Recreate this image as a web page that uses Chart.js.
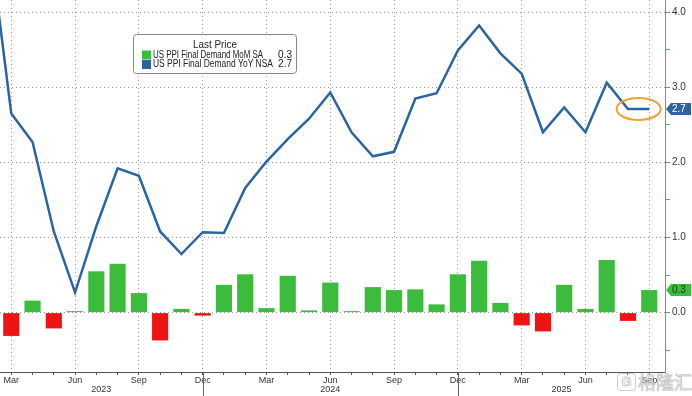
<!DOCTYPE html>
<html lang="en">
<head>
<meta charset="UTF-8">
<title>US PPI Final Demand</title>
<script src="https://cdn.jsdelivr.net/npm/chart.js"></script>
<style>
  html, body { margin: 0; padding: 0; background: #fff; }
  #wrap { position: relative; width: 692px; height: 396px; }
</style>
</head>
<body>
<div id="wrap"><canvas id="ppiChart"></canvas></div>
<script>
    // index 0 = Mar 2023, one step per month
    const monthNames = ['Jan', 'Feb', 'Mar', 'Apr', 'May', 'Jun', 'Jul', 'Aug', 'Sep', 'Oct', 'Nov', 'Dec'];
    const startYear = 2023;
    const startMonth = 2;

    const momLabel = 'US PPI Final Demand MoM SA';
    const yoyLabel = 'US PPI Final Demand YoY NSA';

    // MoM bars, Mar 2023 .. Sep 2025
    const momValues = [
        -0.31, 0.16, -0.21, 0.02, 0.55, 0.65, 0.26, -0.37, 0.05, -0.04,
        0.37, 0.51, 0.06, 0.49, 0.03, 0.40, 0.02, 0.34, 0.30, 0.31, 0.11, 0.51,
        0.69, 0.13, -0.17, -0.25, 0.37, 0.05, 0.70, -0.11, 0.30
    ];
    // YoY line, Feb 2023 .. Sep 2025 (first point sits left of the plot)
    const yoyValues = [
        4.9, 2.65, 2.27, 1.08, 0.27, 1.15, 1.92, 1.82, 1.08, 0.78, 1.07,
        1.06, 1.66, 2.01, 2.31, 2.58, 2.93, 2.40, 2.08, 2.14, 2.85, 2.92, 3.49,
        3.82, 3.45, 3.18, 2.40, 2.73, 2.40, 3.06, 2.71, 2.71
    ];
    const yoyOffset = -1;

    const xMin = -0.53, xMax = 30.74;
    const yMin = -0.79, yMax = 4.16;

    const green = '#3cbc3c';
    const red = '#ee1414';
    const blue = '#2c64a0';
    const axisGreen = '#4cb84c';
    const legendFont = '10px "Liberation Sans", Arial, sans-serif';

    const monthOf = i => ((startMonth + i) % 12 + 12) % 12;
    const yearOf = i => startYear + Math.floor((startMonth + i) / 12);

    Chart.defaults.font.family = '"Liberation Sans", Arial, sans-serif';
    Chart.defaults.font.size = 9;
    Chart.defaults.color = '#333';

    const overlay = {
        id: 'overlay',
        afterDatasetsDraw(chart) {
            const { ctx, scales: { x, y } } = chart;
            // orange ring around the last two readings
            const n = yoyValues.length;
            const cx = (x.getPixelForValue(n - 2 + yoyOffset) + x.getPixelForValue(n - 1 + yoyOffset)) / 2;
            const cy = y.getPixelForValue(yoyValues[n - 1]);
            ctx.save();
            ctx.strokeStyle = '#f0a030';
            ctx.lineWidth = 2;
            ctx.beginPath();
            ctx.ellipse(cx, cy, 22, 11, 0, 0, Math.PI * 2);
            ctx.stroke();
            ctx.restore();
        },
        afterDraw(chart) {
            const { ctx, scales: { x, y }, chartArea } = chart;
            ctx.save();

            // year separators and year labels
            const decs = [];
            for (let i = 0; i <= 30; i++) if (monthOf(i) === 11) decs.push(i);
            ctx.strokeStyle = '#666';
            ctx.lineWidth = 1;
            decs.forEach(i => {
                const px = Math.round(x.getPixelForValue(i)) + 0.5;
                ctx.beginPath();
                ctx.moveTo(px, chartArea.bottom);
                ctx.lineTo(px, chart.height);
                ctx.stroke();
            });
            const bounds = [xMin, ...decs, xMax];
            ctx.fillStyle = '#333';
            ctx.font = '9px "Liberation Sans", Arial, sans-serif';
            ctx.textAlign = 'center';
            ctx.textBaseline = 'middle';
            for (let k = 0; k < bounds.length - 1; k++) {
                const mid = (bounds[k] + bounds[k + 1]) / 2;
                const yr = yearOf(Math.ceil(bounds[k] + 0.01));
                ctx.fillText(String(yr), x.getPixelForValue(mid), 390);
            }

            // legend box
            ctx.fillStyle = '#fff';
            ctx.strokeStyle = '#888';
            ctx.beginPath();
            ctx.roundRect(133.5, 34.5, 163, 39, 3);
            ctx.fill();
            ctx.stroke();
            ctx.font = legendFont;
            ctx.fillStyle = '#222';
            ctx.textAlign = 'center';
            ctx.fillText('Last Price', 215, 45, 44);
            const rows = [
                [momLabel, momValues[momValues.length - 1], green, 110],
                [yoyLabel, yoyValues[yoyValues.length - 1], blue, 120]
            ];
            rows.forEach((r, k) => {
                const ry = 55 + k * 9.5;
                ctx.fillStyle = r[2];
                ctx.fillRect(142, ry - 4.5, 9, 9);
                ctx.fillStyle = '#222';
                ctx.textAlign = 'left';
                ctx.fillText(r[0], 153, ry, r[3]);
                ctx.textAlign = 'right';
                ctx.fillText(r[1].toFixed(1), 292, ry);
            });

            // value tags on the right axis
            ctx.font = '10px "Liberation Sans", Arial, sans-serif';
            const tag = (val, fill, textColor) => {
                const ty = y.getPixelForValue(val);
                const x0 = chartArea.right + 1;
                ctx.fillStyle = fill;
                ctx.beginPath();
                ctx.moveTo(x0, ty);
                ctx.lineTo(x0 + 5, ty - 6);
                ctx.lineTo(chart.width - 1, ty - 6);
                ctx.lineTo(chart.width - 1, ty + 6);
                ctx.lineTo(x0 + 5, ty + 6);
                ctx.closePath();
                ctx.fill();
                ctx.fillStyle = textColor;
                ctx.textAlign = 'left';
                ctx.fillText(val.toFixed(1), x0 + 6, ty + 0.5);
            };
            tag(yoyValues[yoyValues.length - 1], blue, '#fff');
            tag(momValues[momValues.length - 1], green, '#1a3a1a');

            // watermark
            ctx.globalAlpha = 0.6;
            ctx.strokeStyle = '#aaa';
            ctx.fillStyle = '#fff';
            ctx.lineWidth = 1;
            ctx.beginPath();
            ctx.roundRect(617.5, 373.5, 18, 17, 3);
            ctx.stroke();
            ctx.font = 'bold 13px "Liberation Sans", Arial, sans-serif';
            ctx.textAlign = 'center';
            ctx.strokeText('G', 626.5, 382.5);
            ctx.font = '18px "Noto Sans CJK SC"';
            ctx.textAlign = 'left';
            ctx.fillText('格隆汇', 638, 382);
            ctx.strokeText('格隆汇', 638, 382);
            ctx.restore();
        }
    };

    new Chart(document.getElementById('ppiChart'), {
        data: {
            datasets: [
                {
                    type: 'line',
                    label: yoyLabel,
                    data: yoyValues.map((v, i) => ({ x: i + yoyOffset, y: v })),
                    borderColor: blue,
                    borderWidth: 2.5,
                    pointRadius: 0,
                    tension: 0,
                    order: 0
                },
                {
                    type: 'bar',
                    label: momLabel,
                    data: momValues.map((v, i) => ({ x: i, y: v })),
                    backgroundColor: ctx => (ctx.raw && ctx.raw.y < 0 ? red : green),
                    barPercentage: 0.76,
                    categoryPercentage: 1,
                    order: 1
                }
            ]
        },
        options: {
            responsive: true,
            maintainAspectRatio: false,
            animation: false,
            layout: { padding: 0, autoPadding: false },
            plugins: {
                legend: { display: false },
                tooltip: { enabled: false }
            },
            scales: {
                x: {
                    type: 'linear',
                    position: 'bottom',
                    min: xMin,
                    max: xMax,
                    offset: false,
                    afterFit: s => { s.height = 24; s.paddingLeft = 0; s.paddingRight = 0; },
                    ticks: {
                        stepSize: 1,
                        includeBounds: false,
                        autoSkip: false,
                        maxRotation: 0,
                        padding: 0,
                        color: '#333',
                        callback: v => (monthOf(v) % 3 === 2 ? monthNames[monthOf(v)] : '')
                    },
                    grid: {
                        offset: false,
                        color: c => (c.tick && monthOf(c.tick.value) % 3 === 2 ? '#9a9a9a' : 'rgba(0,0,0,0)'),
                        tickColor: '#555',
                        tickLength: 3
                    },
                    border: { color: '#555', width: 1, dash: [1, 3] }
                },
                y: {
                    type: 'linear',
                    position: 'right',
                    min: yMin,
                    max: yMax,
                    afterFit: s => { s.width = 27; s.paddingTop = 0; s.paddingBottom = 0; },
                    ticks: {
                        stepSize: 0.5,
                        includeBounds: false,
                        autoSkip: false,
                        padding: 2,
                        color: '#333',
                        font: { size: 10 },
                        callback: v => (Math.abs(v % 1) < 1e-9 ? v.toFixed(1) : '')
                    },
                    grid: {
                        color: c => (c.tick && Math.abs(c.tick.value % 1) < 1e-9 ? '#9a9a9a' : 'rgba(0,0,0,0)'),
                        tickColor: axisGreen,
                        tickLength: 5
                    },
                    border: { color: axisGreen, width: 1, dash: [1, 3] }
                }
            }
        },
        plugins: [overlay]
    });
</script>
</body>
</html>
